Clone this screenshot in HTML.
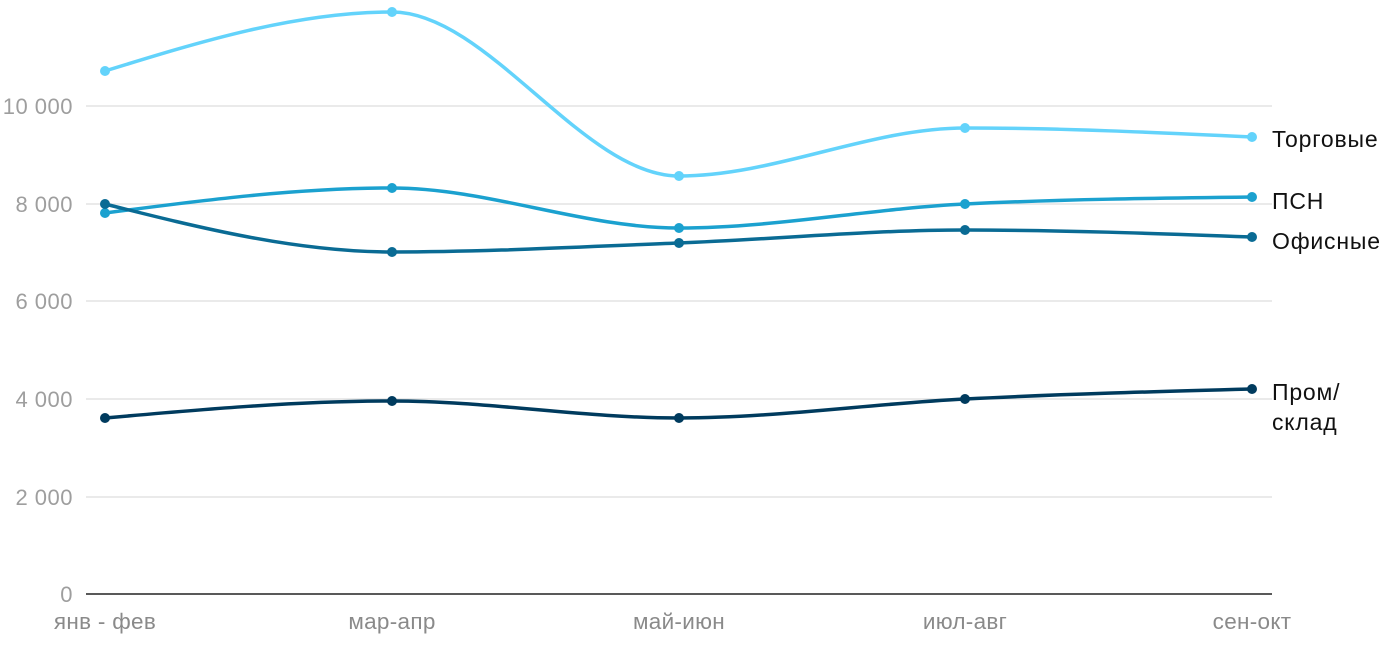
<!DOCTYPE html>
<html><head><meta charset="utf-8"><style>
body{margin:0;background:#fff;}
svg{display:block;font-family:"Liberation Sans",sans-serif;}
</style></head><body>
<svg id="c" width="1400" height="650" xmlns="http://www.w3.org/2000/svg">
<g stroke="#e3e3e3" stroke-width="1.5">
<line x1="86" x2="1272" y1="106" y2="106"/>
<line x1="86" x2="1272" y1="204" y2="204"/>
<line x1="86" x2="1272" y1="301" y2="301"/>
<line x1="86" x2="1272" y1="399" y2="399"/>
<line x1="86" x2="1272" y1="497" y2="497"/>
</g>
<line x1="86" x2="1272" y1="594" y2="594" stroke="#222" stroke-width="1.5"/>
<g fill="#9e9e9e" font-size="22" text-anchor="end" letter-spacing="0.5">
<text x="73" y="114">10 000</text>
<text x="73" y="212">8 000</text>
<text x="73" y="309">6 000</text>
<text x="73" y="407">4 000</text>
<text x="73" y="505">2 000</text>
<text x="73" y="602">0</text>
</g>
<g fill="#8a8a8a" font-size="22.5" text-anchor="middle" letter-spacing="0.3">
<text x="105" y="629">янв - фев</text>
<text x="392" y="629">мар-апр</text>
<text x="679" y="629">май-июн</text>
<text x="965" y="629">июл-авг</text>
<text x="1252" y="629">сен-окт</text>
</g>
<g fill="#111" font-size="23" letter-spacing="0.8">
<text x="1272" y="147">Торговые</text>
<text x="1272" y="209">ПСН</text>
<text x="1272" y="249">Офисные</text>
<text x="1272" y="400">Пром/</text>
<text x="1272" y="430">склад</text>
</g>
<g id="s"></g>
</svg>
<script>
var xs=[105,392,679,965,1252];
var series=[
["#63d3fb",[71,12,176,128,137]],
["#1ba1cf",[213,188,228,204,197]],
["#0a6b94",[204,252,243,230,237]],
["#003b5e",[418,401,418,399,389]]];
function mono(x,y){var n=x.length,d=[],m=[];for(var i=0;i<n-1;i++)d.push((y[i+1]-y[i])/(x[i+1]-x[i]));
m[0]=d[0];m[n-1]=d[n-2];for(i=1;i<n-1;i++){if(d[i-1]*d[i]<=0)m[i]=0;else{var h0=x[i]-x[i-1],h1=x[i+1]-x[i];var p=(d[i-1]*h1+d[i]*h0)/(h0+h1);m[i]=(Math.sign(d[i-1])+Math.sign(d[i]))*Math.min(Math.abs(d[i-1]),Math.abs(d[i]),0.5*Math.abs(p));}}
m[0]=(3*d[0]-m[1])/2;m[n-1]=(3*d[n-2]-m[n-2])/2;
var s="M"+x[0]+","+y[0];for(i=0;i<n-1;i++){var h=(x[i+1]-x[i])/3;s+="C"+(x[i]+h)+","+(y[i]+m[i]*h)+" "+(x[i+1]-h)+","+(y[i+1]-m[i+1]*h)+" "+x[i+1]+","+y[i+1];}return s;}
var g=document.getElementById("s"),h="";
series.forEach(function(s){h+='<path d="'+mono(xs,s[1])+'" fill="none" stroke="'+s[0]+'" stroke-width="3.5"/>';
s[1].forEach(function(y,i){h+='<circle cx="'+xs[i]+'" cy="'+y+'" r="5" fill="'+s[0]+'"/>';});});
g.innerHTML=h;
</script>
</body></html>
